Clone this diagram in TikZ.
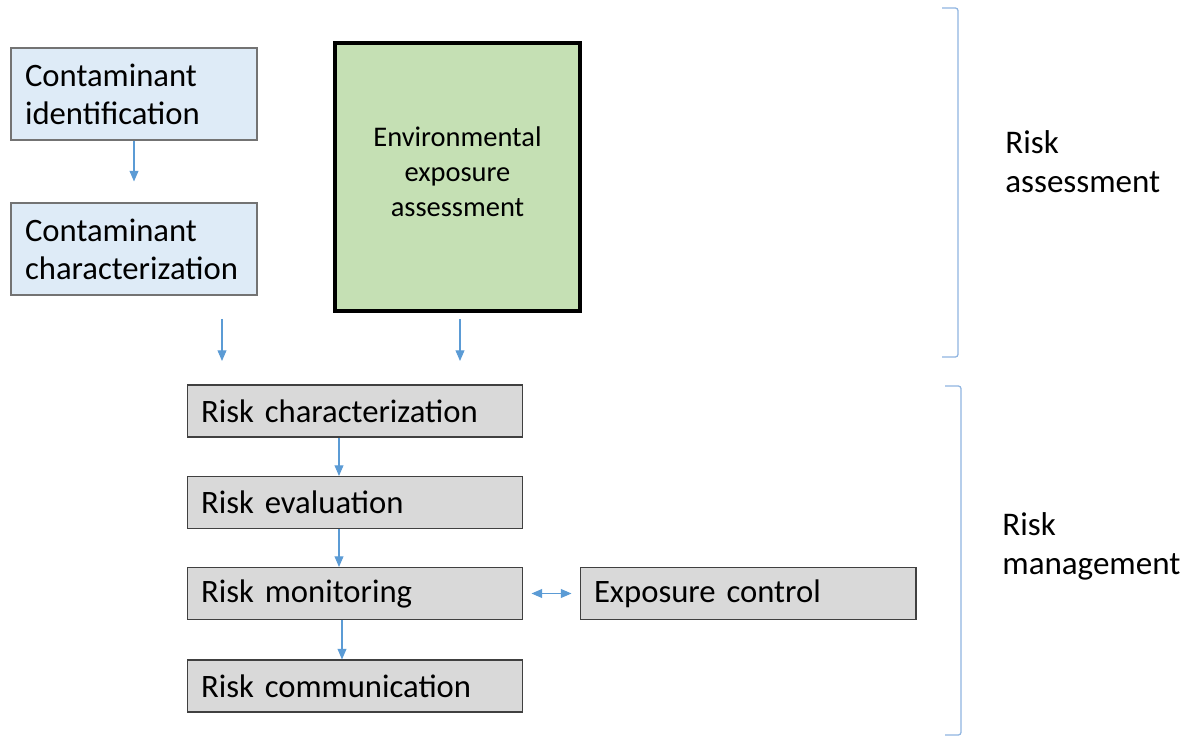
\documentclass[tikz,border=0pt]{standalone}
\usepackage{fontspec}
\setmainfont{Carlito}
\usepackage{tikz}
\usetikzlibrary{arrows.meta, calc, positioning}

\definecolor{boxblue}{RGB}{222,235,247}
\definecolor{boxgreen}{RGB}{197,224,180}
\definecolor{boxgray}{RGB}{217,217,217}
\definecolor{arrowblue}{RGB}{91,155,213}
\definecolor{bracketblue}{RGB}{143,180,224}

\begin{document}
\begin{tikzpicture}[x=0.02cm, y=-0.02cm,
    bluebox/.style={draw=black!55, fill=boxblue, line width=0.6pt, minimum width=4.92cm, minimum height=1.84cm, text width=4.36cm, align=left, inner sep=0pt, font=\fontsize{18.6}{21.6}\selectfont},
    greenbox/.style={draw=black, fill=boxgreen, line width=2.4pt, minimum width=4.9cm, minimum height=5.36cm, inner sep=0pt},
    greentext/.style={align=center, inner sep=0pt, font=\fontsize{16.2}{19.9}\selectfont},
    graybox/.style={draw=black!75, fill=boxgray, line width=0.6pt, minimum width=6.72cm, minimum height=1.04cm, text width=6.16cm, align=left, inner sep=0pt, font=\fontsize{18.6}{21.6}\selectfont},
    flow/.style={draw=arrowblue, line width=0.6pt, -{Triangle[width=5pt,length=6pt]}},
    bracket/.style={draw=bracketblue, line width=0.7pt, rounded corners=1.5pt},
    sidelabel/.style={anchor=west, align=left, inner sep=0pt, font=\fontsize{18.8}{22.2}\selectfont}]
    \useasboundingbox (0,0) rectangle (1197,736);
    % contaminant boxes
    \node[bluebox] (cid) at (134,94) {Contaminant\\identification};
    \node[bluebox] (cchar) at (134,249) {Contaminant\\characterization};
    \node[greenbox] (env) at (457.5,177) {};
    \node[greentext] (envtext) at (457.5,172) {Environmental\\exposure\\assessment};
    % risk boxes
    \node[graybox] (rchar) at (355,411) {Risk characterization};
    \node[graybox] (reval) at (355,502.5) {Risk evaluation};
    \node[graybox] (rmon) at (355,593.5) {Risk monitoring};
    \node[graybox] (rcomm) at (355,686) {Risk communication};
    \node[graybox] (ctrl) at (748,593.5) {Exposure control};
    % arrows
    \draw[flow, shorten >=0.42cm] (cid) -- (cchar);
    \coordinate (ctop) at (222,319);
    \coordinate (cbot) at (222,361);
    \draw[flow] (ctop) -- (cbot);
    \coordinate (etop) at (460,319);
    \coordinate (ebot) at (460,361);
    \draw[flow] (etop) -- (ebot);
    \draw[flow] ([xshift=-0.32cm]rchar.south) -- ([xshift=-0.32cm]reval.north);
    \draw[flow] ([xshift=-0.32cm]reval.south) -- ([xshift=-0.32cm]rmon.north);
    \draw[flow] ([xshift=-0.26cm]rmon.south) -- ([xshift=-0.26cm]rcomm.north);
    \draw[flow, {Triangle[width=5pt,length=6pt]}-{Triangle[width=5pt,length=6pt]}, shorten <=0.16cm, shorten >=0.16cm] (rmon) -- (ctrl);
    % brackets
    \draw[bracket] (942,8) -- (958,8) -- (958,357) -- (942,357);
    \draw[bracket] (945,386) -- (961,386) -- (961,735) -- (945,735);
    \node[sidelabel] (assess) at (1005,162) {Risk\\assessment};
    \node[sidelabel] (manage) at (1002,546) {Risk\\management};
\end{tikzpicture}
\end{document}
